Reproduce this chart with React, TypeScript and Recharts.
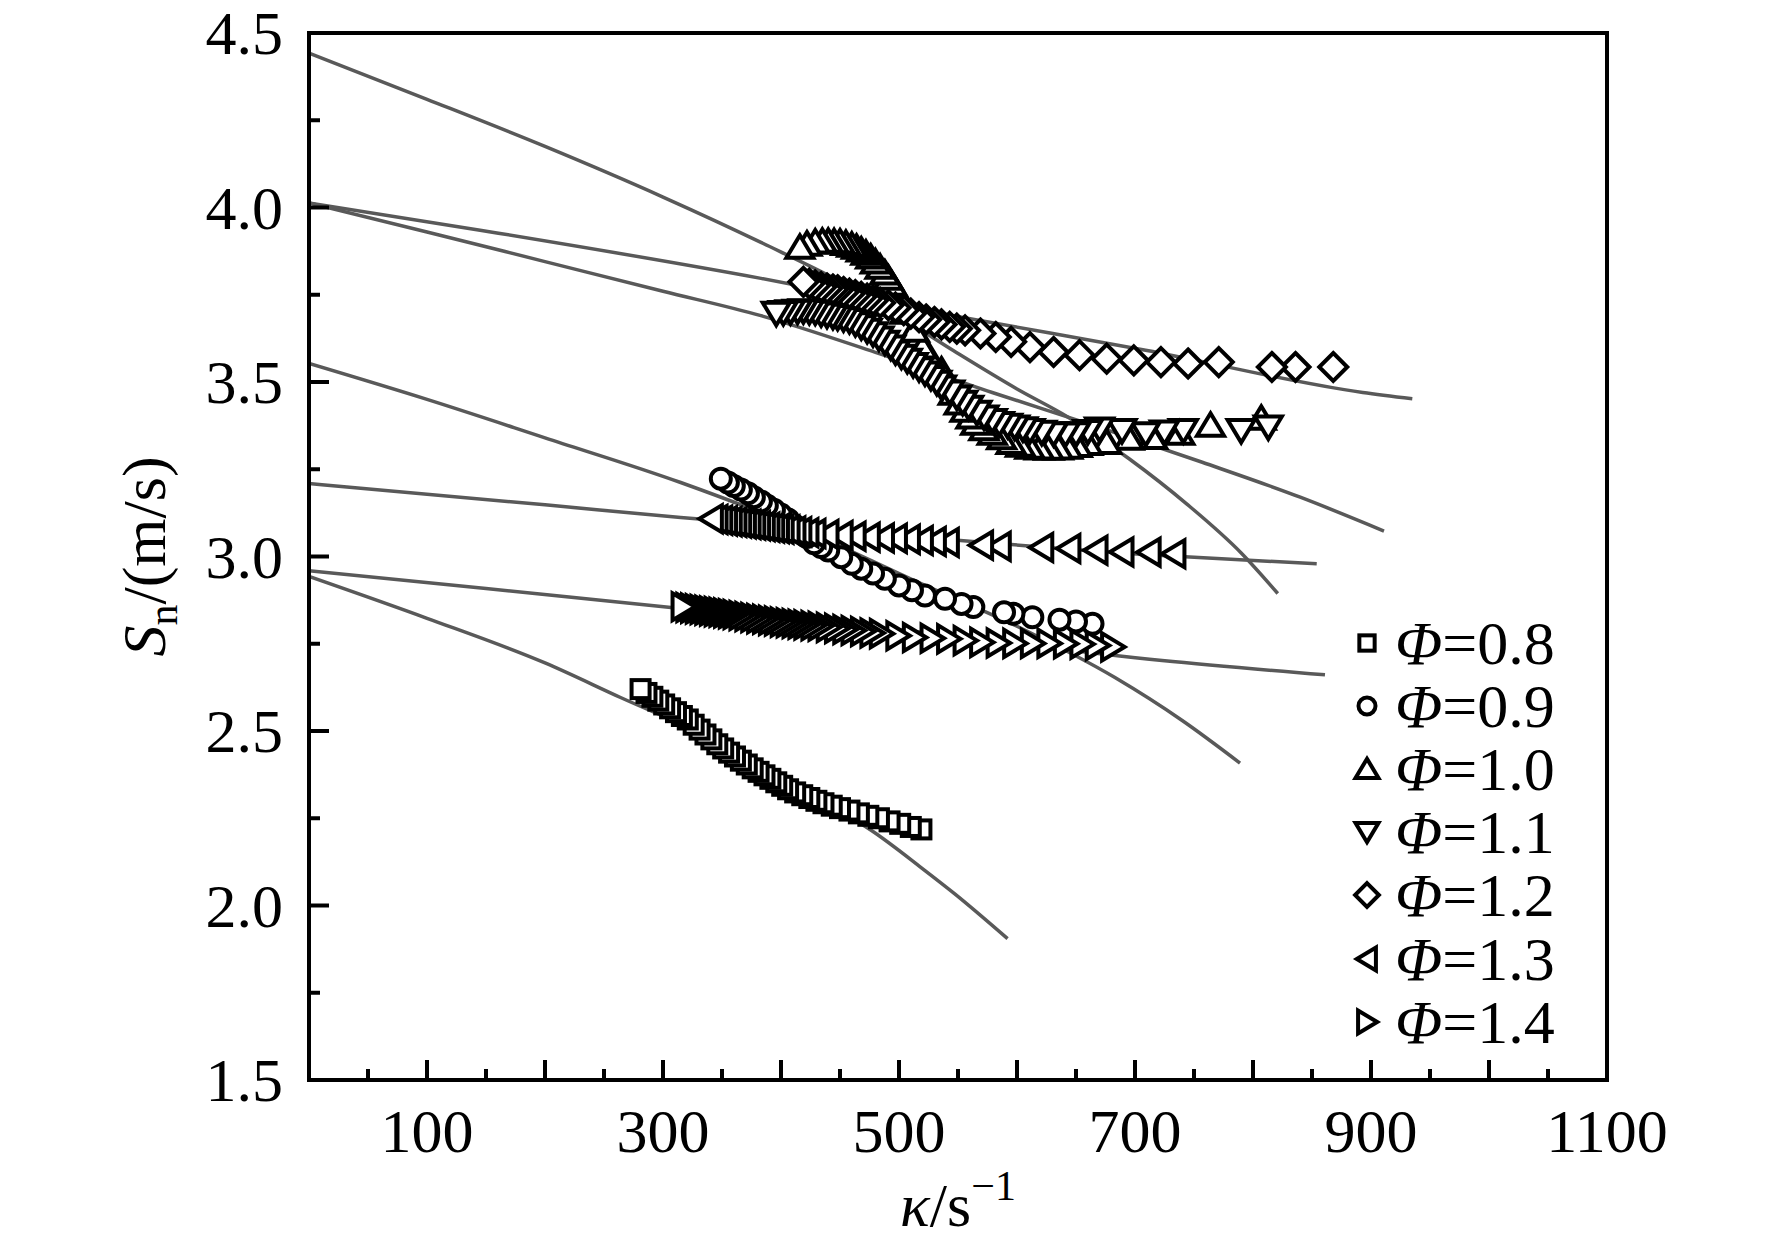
import React from 'react';
import { ComposedChart, Scatter, Line, XAxis, YAxis, ReferenceArea, Legend } from 'recharts';

const FONT = '"Liberation Serif", "Times New Roman", Times, serif';

// ---- measured data (κ in s^-1, Sn in m/s) ----
const kappa08 = [281, 286, 291, 296, 301, 306, 311, 316, 321, 326, 331, 336, 341, 346, 351, 356, 361, 366, 371, 376, 381, 386, 391, 396, 401, 406, 412, 418, 424, 430, 436, 443, 450, 458, 466, 474, 483, 492, 501, 510, 519];
const sn08 = [2.620, 2.609, 2.598, 2.587, 2.576, 2.565, 2.554, 2.543, 2.533, 2.518, 2.504, 2.490, 2.476, 2.462, 2.450, 2.438, 2.427, 2.415, 2.404, 2.393, 2.383, 2.373, 2.363, 2.353, 2.343, 2.333, 2.324, 2.316, 2.308, 2.300, 2.293, 2.286, 2.279, 2.272, 2.264, 2.257, 2.250, 2.241, 2.234, 2.225, 2.218];

const kappa09 = [349, 355, 360, 366, 372, 377, 383, 388, 394, 400, 406, 411, 417, 422, 428, 434, 440, 451, 460, 468, 478, 488, 500, 511, 522, 539, 553, 563, 589, 597, 613, 636, 650, 664];
const sn09 = [3.223, 3.212, 3.202, 3.192, 3.181, 3.170, 3.158, 3.146, 3.134, 3.120, 3.106, 3.090, 3.073, 3.056, 3.038, 3.027, 3.017, 2.998, 2.979, 2.965, 2.951, 2.936, 2.917, 2.903, 2.888, 2.879, 2.864, 2.855, 2.840, 2.836, 2.826, 2.819, 2.814, 2.807];

const kappa10 = [416, 422, 429, 435, 440, 445, 450, 455, 460, 464, 468, 472, 476, 480, 484, 488, 491, 494, 497, 505, 513, 520, 526, 536, 546, 551, 556, 561, 565, 572, 579, 587, 595, 603, 611, 619, 627, 635, 643, 651, 660, 676, 695, 715, 738, 764, 807];
const sn10 = [3.886, 3.895, 3.901, 3.903, 3.903, 3.902, 3.901, 3.897, 3.892, 3.886, 3.878, 3.869, 3.858, 3.844, 3.829, 3.812, 3.797, 3.780, 3.763, 3.700, 3.648, 3.600, 3.571, 3.534, 3.468, 3.440, 3.419, 3.400, 3.382, 3.366, 3.353, 3.340, 3.327, 3.319, 3.313, 3.311, 3.310, 3.311, 3.313, 3.318, 3.324, 3.327, 3.339, 3.341, 3.353, 3.376, 3.396];

const kappa11 = [396, 402, 408, 414, 419, 424, 429, 434, 439, 444, 448, 453, 458, 463, 468, 473, 478, 483, 488, 493, 497, 502, 507, 512, 517, 522, 527, 532, 536, 543, 549, 554, 559, 566, 572, 579, 585, 592, 598, 605, 611, 621, 631, 641, 650, 660, 670, 689, 709, 725, 741, 790, 813];
const sn11 = [3.697, 3.699, 3.701, 3.703, 3.704, 3.702, 3.700, 3.695, 3.691, 3.688, 3.685, 3.681, 3.676, 3.667, 3.658, 3.648, 3.638, 3.626, 3.614, 3.600, 3.586, 3.574, 3.562, 3.550, 3.538, 3.526, 3.513, 3.499, 3.486, 3.471, 3.457, 3.442, 3.428, 3.413, 3.400, 3.390, 3.381, 3.376, 3.371, 3.366, 3.361, 3.356, 3.352, 3.351, 3.352, 3.358, 3.365, 3.361, 3.352, 3.357, 3.361, 3.361, 3.371];

const kappa12 = [419, 424, 429, 434, 439, 444, 448, 453, 458, 463, 468, 473, 478, 484, 491, 497, 504, 510, 517, 523, 530, 536, 543, 549, 556, 569, 582, 595, 611, 631, 653, 676, 699, 722, 745, 771, 816, 836, 868];
const sn12 = [3.787, 3.782, 3.777, 3.772, 3.768, 3.765, 3.763, 3.758, 3.753, 3.749, 3.744, 3.739, 3.734, 3.727, 3.720, 3.713, 3.706, 3.696, 3.686, 3.679, 3.672, 3.665, 3.658, 3.653, 3.648, 3.639, 3.629, 3.615, 3.600, 3.586, 3.577, 3.567, 3.562, 3.557, 3.553, 3.557, 3.543, 3.543, 3.543];

const kappa13 = [341, 345, 349, 353, 357, 361, 365, 369, 373, 377, 381, 385, 389, 393, 397, 401, 406, 411, 416, 422, 428, 439, 451, 462, 474, 486, 497, 508, 519, 530, 541, 570, 585, 621, 644, 667, 689, 712, 733];
const sn13 = [3.108, 3.106, 3.104, 3.102, 3.100, 3.098, 3.096, 3.094, 3.092, 3.090, 3.088, 3.086, 3.084, 3.082, 3.080, 3.078, 3.076, 3.073, 3.071, 3.068, 3.066, 3.063, 3.060, 3.058, 3.055, 3.053, 3.052, 3.049, 3.046, 3.043, 3.040, 3.032, 3.029, 3.026, 3.023, 3.018, 3.013, 3.012, 3.008];

const kappa14 = [317, 321, 325, 329, 333, 337, 341, 345, 349, 353, 357, 361, 366, 371, 376, 381, 386, 391, 396, 401, 406, 411, 416, 421, 427, 433, 440, 447, 454, 461, 469, 477, 485, 499, 513, 528, 542, 556, 570, 584, 598, 613, 627, 641, 655, 668, 681];
const sn14 = [2.856, 2.854, 2.852, 2.850, 2.848, 2.846, 2.844, 2.842, 2.840, 2.838, 2.836, 2.834, 2.831, 2.828, 2.825, 2.822, 2.820, 2.817, 2.815, 2.812, 2.810, 2.808, 2.806, 2.804, 2.802, 2.800, 2.797, 2.794, 2.791, 2.788, 2.785, 2.781, 2.779, 2.773, 2.768, 2.766, 2.764, 2.759, 2.754, 2.752, 2.751, 2.751, 2.751, 2.750, 2.749, 2.745, 2.741];

// ---- fitted curves ----
const fitK08 = [0, 100, 200, 264, 349, 434, 477, 519, 547, 592];
const fitS08 = [2.943, 2.823, 2.695, 2.596, 2.467, 2.300, 2.214, 2.108, 2.034, 1.905];
const fitK09 = [0, 100, 200, 315, 420, 513, 600, 683, 740, 789];
const fitS09 = [3.553, 3.450, 3.340, 3.212, 3.075, 2.931, 2.800, 2.653, 2.530, 2.408];
const fitK10 = [0, 100, 200, 300, 383, 471, 546, 600, 643, 695, 744, 790, 821];
const fitS10 = [4.442, 4.310, 4.175, 4.030, 3.900, 3.750, 3.590, 3.480, 3.400, 3.280, 3.150, 3.010, 2.894];
const fitK11 = [0, 100, 200, 300, 383, 480, 579, 670, 757, 840, 911];
const fitS11 = [4.013, 3.930, 3.845, 3.760, 3.690, 3.585, 3.470, 3.370, 3.270, 3.170, 3.073];
const fitK12 = [0, 145, 383, 546, 709, 893, 935];
const fitS12 = [4.013, 3.935, 3.797, 3.690, 3.591, 3.470, 3.452];
const fitK13 = [0, 200, 315, 500, 723, 854];
const fitS13 = [3.209, 3.148, 3.112, 3.060, 3.003, 2.979];
const fitK14 = [0, 150, 315, 500, 723, 861];
const fitS14 = [2.959, 2.908, 2.851, 2.790, 2.702, 2.661];

// ---- axes ----
const xTicks = [0, 50, 100, 150, 200, 250, 300, 350, 400, 450, 500, 550, 600, 650, 700, 750, 800, 850, 900, 950, 1000, 1050, 1100];
const xTickLabels = [100, 300, 500, 700, 900, 1100];
const yTicks = [1.5, 1.75, 2.0, 2.25, 2.5, 2.75, 3.0, 3.25, 3.5, 3.75, 4.0, 4.25, 4.5];
const yTickLabels = [1.5, 2.0, 2.5, 3.0, 3.5, 4.0, 4.5];

const seriesNames = ['0.8', '0.9', '1.0', '1.1', '1.2', '1.3', '1.4'];
const seriesKinds = ['square', 'circle', 'up', 'down', 'diamond', 'left', 'right'];

const zip = (xs: number[], ys: number[]) => xs.map((x, i) => ({ x, y: ys[i] }));
// recorded in time order: stretch rate decreases as the flame grows, so draw from high κ to low κ
const zipRecorded = (xs: number[], ys: number[]) => zip(xs, ys).reverse();

const markerSets = [
  zipRecorded(kappa08, sn08), zipRecorded(kappa09, sn09), zipRecorded(kappa10, sn10), zipRecorded(kappa11, sn11),
  zipRecorded(kappa12, sn12), zipRecorded(kappa13, sn13), zipRecorded(kappa14, sn14),
];
const fitSets = [
  zip(fitK08, fitS08), zip(fitK09, fitS09), zip(fitK10, fitS10), zip(fitK11, fitS11),
  zip(fitK12, fitS12), zip(fitK13, fitS13), zip(fitK14, fitS14),
];

const SW = 4;
function Marker({ kind, cx, cy, s = 1 }: { kind: string; cx: number; cy: number; s?: number }) {
  const c = { fill: '#fff', stroke: '#000', strokeWidth: SW };
  switch (kind) {
    case 'square':
      return <rect x={cx - 9 * s} y={cy - 9 * s} width={18 * s} height={18 * s} {...c} />;
    case 'circle':
      return <circle cx={cx} cy={cy} r={10 * s} {...c} />;
    case 'up':
      return <path d={`M${cx},${cy - 12 * s}L${cx + 13.5 * s},${cy + 10.5 * s}L${cx - 13.5 * s},${cy + 10.5 * s}Z`} {...c} />;
    case 'down':
      return <path d={`M${cx},${cy + 12 * s}L${cx + 13.5 * s},${cy - 10.5 * s}L${cx - 13.5 * s},${cy - 10.5 * s}Z`} {...c} />;
    case 'diamond':
      return <path d={`M${cx},${cy - 14 * s}L${cx + 14 * s},${cy}L${cx},${cy + 14 * s}L${cx - 14 * s},${cy}Z`} {...c} />;
    case 'left':
      return <path d={`M${cx - 12 * s},${cy}L${cx + 10.5 * s},${cy - 13.5 * s}L${cx + 10.5 * s},${cy + 13.5 * s}Z`} {...c} />;
    case 'right':
      return <path d={`M${cx + 12 * s},${cy}L${cx - 10.5 * s},${cy - 13.5 * s}L${cx - 10.5 * s},${cy + 13.5 * s}Z`} {...c} />;
    default:
      return null;
  }
}

const XTick = (props: any) => {
  const { x, y, payload } = props;
  const v = Number(payload.value);
  const major = v % 100 === 0;
  const show = xTickLabels.includes(v);
  return (
    <g>
      <line x1={x} x2={x} y1={y} y2={y - (major ? 20 : 11)} stroke="#000" strokeWidth={4} />
      {show && (
        <text x={x} y={y + 72} textAnchor="middle" fontFamily={FONT} fontSize={62} fill="#000">
          {v}
        </text>
      )}
    </g>
  );
};

const YTick = (props: any) => {
  const { x, y, payload } = props;
  const v = Number(payload.value);
  const major = Math.abs(v * 2 - Math.round(v * 2)) < 1e-6;
  const show = yTickLabels.some((t) => Math.abs(t - v) < 1e-6);
  return (
    <g>
      <line x1={x} x2={x + (major ? 20 : 11)} y1={y} y2={y} stroke="#000" strokeWidth={4} />
      {show && (
        <text x={x - 26} y={y + 21} textAnchor="end" fontFamily={FONT} fontSize={62} fill="#000">
          {v.toFixed(1)}
        </text>
      )}
    </g>
  );
};

const XTitle = (props: any) => {
  const vb = props.viewBox || { x: 309, y: 1080, width: 1298, height: 80 };
  const cx = vb.x + vb.width / 2;
  const cy = vb.y + 146;
  return (
    <text x={cx} y={cy} textAnchor="middle" fontFamily={FONT} fontSize={62} fill="#000">
      <tspan fontStyle="italic">κ</tspan>
      <tspan>/s</tspan>
      <tspan fontSize={42} dy={-26}>−1</tspan>
    </text>
  );
};

const YTitle = (props: any) => {
  const vb = props.viewBox || { x: 209, y: 33, width: 100, height: 1047 };
  const cx = vb.x + vb.width - 144;
  const cy = vb.y + vb.height / 2;
  return (
    <text
      x={cx}
      y={cy}
      transform={`rotate(-90 ${cx} ${cy})`}
      textAnchor="middle"
      fontFamily={FONT}
      fontSize={62}
      fill="#000"
    >
      <tspan fontStyle="italic">S</tspan>
      <tspan fontSize={42} dy={12}>n</tspan>
      <tspan dy={-12}>/(m/s)</tspan>
    </text>
  );
};

const LegendBox = () => (
  <div style={{ display: 'flex', flexDirection: 'column' }}>
    {seriesNames.map((name, i) => (
      <div key={name} style={{ height: 63.2, display: 'flex', alignItems: 'center' }}>
        <svg width={36} height={36} style={{ display: 'block' }}>
          <Marker kind={seriesKinds[i]} cx={18} cy={18} s={0.85} />
        </svg>
        <span style={{ fontFamily: FONT, fontSize: 62, lineHeight: 1, marginLeft: 10, color: '#000', whiteSpace: 'nowrap' }}>
          <i>Φ</i>=<span>{name}</span>
        </span>
      </div>
    ))}
  </div>
);

export default function App() {
  return (
    <div style={{ position: 'absolute', left: 0, top: 0, width: 1772, height: 1249, background: '#fff' }}>
      <ComposedChart
        width={1772}
        height={1249}
        margin={{ top: 33, right: 165, bottom: 89, left: 209 }}
        style={{ overflow: 'visible' }}
      >
        <XAxis
          type="number"
          dataKey="x"
          domain={[0, 1100]}
          ticks={xTicks}
          interval={0}
          allowDataOverflow
          height={80}
          tickSize={0}
          tickMargin={0}
          tickLine={false}
          axisLine={{ stroke: '#000', strokeWidth: 4 }}
          tick={<XTick />}
          label={<XTitle />}
        />
        <YAxis
          type="number"
          dataKey="y"
          domain={[1.5, 4.5]}
          ticks={yTicks}
          interval={0}
          allowDataOverflow
          width={100}
          tickSize={0}
          tickMargin={0}
          tickLine={false}
          axisLine={{ stroke: '#000', strokeWidth: 4 }}
          tick={<YTick />}
          label={<YTitle />}
        />
        <ReferenceArea x1={0} x2={1100} y1={1.5} y2={4.5} fill="none" stroke="#000" strokeWidth={4} ifOverflow="visible" />
        {markerSets.map((d, i) => (
          <Scatter
            key={'m' + i}
            name={'Φ=' + seriesNames[i]}
            data={d}
            isAnimationActive={false}
            legendType="none"
            shape={(p: any) => <Marker kind={seriesKinds[i]} cx={p.cx} cy={p.cy} />}
          />
        ))}
        {fitSets.map((d, i) => (
          <Line
            key={'f' + i}
            data={d}
            dataKey="y"
            type="monotone"
            stroke="#595959"
            strokeWidth={3.5}
            dot={false}
            activeDot={false}
            isAnimationActive={false}
            legendType="none"
          />
        ))}
        <Legend
          layout="vertical"
          align="center"
          verticalAlign="middle"
          content={() => <LegendBox />}
          wrapperStyle={{ left: 1349, top: 611, width: 280, height: 'auto' }}
        />
      </ComposedChart>
    </div>
  );
}
